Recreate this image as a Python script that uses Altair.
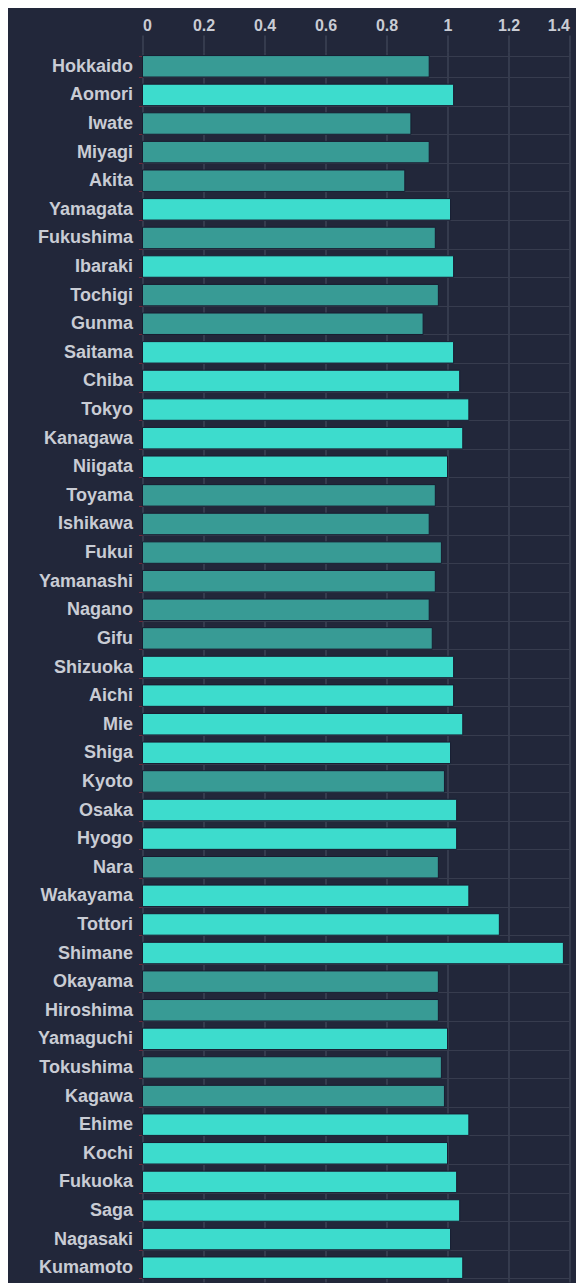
import altair as alt
import pandas as pd

prefectures = [
    "Hokkaido", "Aomori", "Iwate", "Miyagi", "Akita", "Yamagata", "Fukushima",
    "Ibaraki", "Tochigi", "Gunma", "Saitama", "Chiba", "Tokyo", "Kanagawa",
    "Niigata", "Toyama", "Ishikawa", "Fukui", "Yamanashi", "Nagano", "Gifu",
    "Shizuoka", "Aichi", "Mie", "Shiga", "Kyoto", "Osaka", "Hyogo", "Nara",
    "Wakayama", "Tottori", "Shimane", "Okayama", "Hiroshima", "Yamaguchi",
    "Tokushima", "Kagawa", "Ehime", "Kochi", "Fukuoka", "Saga", "Nagasaki",
    "Kumamoto",
]
values = [
    0.94, 1.02, 0.88, 0.94, 0.86, 1.01, 0.96,
    1.02, 0.97, 0.92, 1.02, 1.04, 1.07, 1.05,
    1.00, 0.96, 0.94, 0.98, 0.96, 0.94, 0.95,
    1.02, 1.02, 1.05, 1.01, 0.99, 1.03, 1.03, 0.97,
    1.07, 1.17, 1.38, 0.97, 0.97, 1.00,
    0.98, 0.99, 1.07, 1.00, 1.03, 1.04, 1.01,
    1.05,
]
x_ticks = [0, 0.2, 0.4, 0.6, 0.8, 1, 1.2, 1.4]

df = pd.DataFrame({"prefecture": prefectures, "value": values})

bright = "#3ddccd"
dim = "#389b95"
label_color = "#c9ccd4"

chart = (
    alt.Chart(df)
    .mark_bar(stroke="#181c30", strokeWidth=1)
    .encode(
        x=alt.X(
            "value:Q",
            scale=alt.Scale(domain=[0, 1.4], nice=False, zero=True),
            axis=alt.Axis(
                orient="top",
                values=x_ticks,
                format="~g",
                title=None,
                domain=False,
                grid=True,
                gridColor="#444a5c",
                gridWidth=1.2,
                ticks=True,
                tickColor="#444a5c",
                tickSize=17,
                tickWidth=1.2,
                labelPadding=2,
                labelColor=label_color,
                labelFont="Liberation Sans",
                labelFontWeight="bold",
                labelFontSize=16,
            ),
        ),
        y=alt.Y(
            "prefecture:N",
            sort=prefectures,
            scale=alt.Scale(paddingInner=0.25, paddingOuter=0.125),
            axis=alt.Axis(
                title=None,
                domain=False,
                grid=True,
                gridColor="#373c4e",
                gridWidth=1.2,
                tickBand="extent",
                ticks=True,
                tickColor="#6a2a3c",
                tickSize=4,
                labelPadding=6,
                labelColor=label_color,
                labelFont="Liberation Sans",
                labelFontWeight="bold",
                labelFontSize=18,
            ),
        ),
        color=alt.condition(alt.datum.value >= 1, alt.value(bright), alt.value(dim)),
    )
    .properties(
        width=427,
        height=1230,
        background="#22273a",
        padding={"left": 134.5, "top": 44, "right": 6.5, "bottom": 1},
        autosize=alt.AutoSizeParams(type="none"),
    )
    .configure_view(stroke=None)
)

chart.save("out.html", embed_options={"renderer": "svg", "actions": False})
